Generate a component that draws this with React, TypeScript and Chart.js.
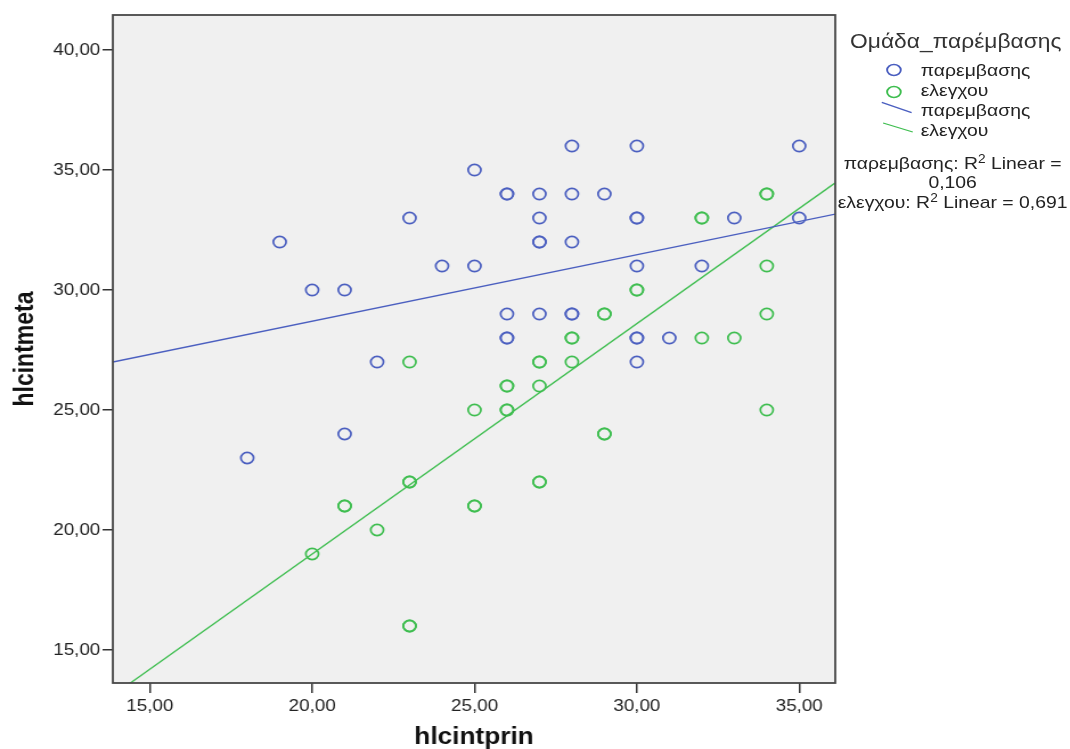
import React, { useEffect, useRef } from "react";
import { Chart, registerables } from "chart.js";

Chart.register(...registerables);

// Ομάδα παρέμβασης (intervention) points: hlcintprin (x), hlcintmeta (y)
const interventionX = [19, 20, 21, 18, 21, 22, 23, 24, 25, 25, 26, 26, 26, 26, 26, 27, 27, 27, 27, 27, 28, 28, 28, 28, 28, 29, 30, 30, 30, 30, 30, 30, 30, 31, 32, 33, 35, 35];
const interventionY = [32, 30, 30, 23, 24, 27, 33, 31, 35, 31, 34, 34, 29, 28, 28, 34, 33, 32, 32, 29, 36, 34, 32, 29, 29, 34, 36, 33, 33, 31, 28, 28, 27, 28, 31, 33, 36, 33];

// Ομάδα ελέγχου (control) points
const controlX = [20, 21, 21, 22, 23, 23, 23, 23, 23, 25, 25, 25, 26, 26, 26, 26, 27, 27, 27, 27, 27, 28, 28, 28, 29, 29, 29, 29, 30, 30, 32, 32, 32, 33, 34, 34, 34, 34, 34];
const controlY = [19, 21, 21, 20, 27, 22, 22, 16, 16, 25, 21, 21, 26, 26, 25, 25, 27, 27, 26, 22, 22, 28, 28, 27, 29, 29, 24, 24, 30, 30, 33, 33, 28, 28, 34, 34, 31, 29, 25];

// Linear fit coefficients: [slope, intercept]
const interventionFit = [0.277, 23.16];
const controlFit = [0.96, -0.2];

const xTicks = [15, 20, 25, 30, 35];
const yTicks = [15, 20, 25, 30, 35, 40];
const xRange = [13.86, 36.11];
const yRange = [13.625, 41.46];

const BLUE = "#4b5fc0";
const GREEN = "#3fbe50";

// The reference is horizontally stretched; draw in a narrower space and stretch.
const W_IN = 939;
const H = 749;
const SX = 1070 / W_IN;

const fmt = (v: number) => v.toFixed(2).replace(".", ",");

const bgPlugin = {
  id: "plotBg",
  beforeDraw(chart: any) {
    const { ctx, chartArea } = chart;
    ctx.save();
    ctx.fillStyle = "#f0f0f0";
    ctx.fillRect(chartArea.left, chartArea.top, chartArea.right - chartArea.left, chartArea.bottom - chartArea.top);
    ctx.restore();
  },
  afterDraw(chart: any) {
    const { ctx, chartArea } = chart;
    ctx.save();
    ctx.strokeStyle = "#484848";
    ctx.lineWidth = 1.8;
    ctx.strokeRect(chartArea.left, chartArea.top, chartArea.right - chartArea.left, chartArea.bottom - chartArea.top);
    ctx.restore();
  },
};

export default function App() {
  const ref = useRef<HTMLCanvasElement>(null);

  useEffect(() => {
    if (!ref.current) return;
    const pts = (xs: number[], ys: number[]) => xs.map((x, i) => ({ x, y: ys[i] }));
    const fitLine = (f: number[]) => xRange.map((x) => ({ x, y: f[0] * x + f[1] }));
    const tickFont = { family: "'Liberation Sans', Arial, sans-serif", size: 16.5 };
    const titleFont = { family: "'Liberation Sans', Arial, sans-serif", size: 23, weight: "bold", lineHeight: 1 };
    const chart = new Chart(ref.current, {
      type: "scatter",
      data: {
        datasets: [
          {
            label: "παρεμβασης",
            data: pts(interventionX, interventionY),
            borderColor: BLUE,
            backgroundColor: "rgba(0,0,0,0)",
            pointRadius: 5.6,
            borderWidth: 1.7,
          },
          {
            label: "ελεγχου",
            data: pts(controlX, controlY),
            borderColor: GREEN,
            backgroundColor: "rgba(0,0,0,0)",
            pointRadius: 5.6,
            borderWidth: 1.7,
          },
          {
            type: "line",
            label: "παρεμβασης fit",
            data: fitLine(interventionFit),
            borderColor: BLUE,
            borderWidth: 1.3,
            pointRadius: 0,
            showLine: true,
            clip: 0,
          } as any,
          {
            type: "line",
            label: "ελεγχου fit",
            data: fitLine(controlFit),
            borderColor: GREEN,
            borderWidth: 1.3,
            pointRadius: 0,
            showLine: true,
            clip: 0,
          } as any,
        ],
      },
      options: {
        animation: false,
        responsive: false,
        maintainAspectRatio: false,
        layout: { padding: { top: 15, right: 206, left: 0, bottom: 0 } },
        plugins: { legend: { display: false }, tooltip: { enabled: false } },
        scales: {
          x: {
            type: "linear",
            min: xRange[0],
            max: xRange[1],
            afterBuildTicks: (s: any) => {
              s.ticks = xTicks.map((v) => ({ value: v }));
            },
            afterFit: (s: any) => {
              s.height = 66;
            },
            grid: { display: true, drawOnChartArea: false, drawTicks: true, tickLength: 10, color: "#333", lineWidth: 1.5 },
            border: { display: false },
            ticks: {
              callback: (v: any) => fmt(Number(v)),
              color: "#222",
              font: tickFont,
              padding: 4,
              maxRotation: 0,
            },
            title: {
              display: true,
              text: "hlcintprin",
              color: "#111",
              font: titleFont,
              padding: { top: 0, bottom: 0 },
            },
          },
          y: {
            type: "linear",
            min: yRange[0],
            max: yRange[1],
            afterBuildTicks: (s: any) => {
              s.ticks = yTicks.map((v) => ({ value: v }));
            },
            afterFit: (s: any) => {
              s.width = 99;
            },
            grid: { display: true, drawOnChartArea: false, drawTicks: true, tickLength: 9, color: "#333", lineWidth: 1.5 },
            border: { display: false },
            ticks: {
              callback: (v: any) => fmt(Number(v)),
              color: "#222",
              font: tickFont,
              padding: 2,
            },
            title: {
              display: true,
              text: "hlcintmeta",
              color: "#111",
              font: titleFont,
              padding: { top: 11, bottom: 0 },
            },
          },
        },
      },
      plugins: [bgPlugin],
    } as any);
    return () => chart.destroy();
  }, []);

  const txt: React.CSSProperties = {
    position: "absolute",
    fontFamily: "'Liberation Sans', Arial, sans-serif",
    color: "#222",
    whiteSpace: "nowrap",
    lineHeight: 1,
    fontSize: 17,
  };
  const center: React.CSSProperties = { left: 686, width: 300, textAlign: "center" };
  const sup: React.CSSProperties = { fontSize: 12, lineHeight: 0, verticalAlign: "0.5em" };

  return (
    <div style={{ position: "absolute", left: 0, top: 0, width: 1070, height: H, overflow: "hidden", background: "#fff" }}>
      <div style={{ position: "absolute", left: 0, top: 0, width: W_IN, height: H, transform: `scaleX(${SX})`, transformOrigin: "0 0" }}>
        <canvas ref={ref} width={W_IN} height={H} style={{ display: "block", width: W_IN, height: H }} />
        <div style={{ ...txt, left: 746, top: 31, fontSize: 20, color: "#333" }}>Ομάδα_παρέμβασης</div>
        <svg style={{ position: "absolute", left: 760, top: 55 }} width={60} height={90}>
          <ellipse cx={24.5} cy={15} rx={6} ry={5.5} fill="none" stroke={BLUE} strokeWidth={1.7} />
          <ellipse cx={24.5} cy={37} rx={6} ry={5.5} fill="none" stroke={GREEN} strokeWidth={1.7} />
          <line x1={13.8} y1={47.3} x2={40} y2={57.7} stroke={BLUE} strokeWidth={1.3} />
          <line x1={15} y1={68} x2={41} y2={77} stroke={GREEN} strokeWidth={1.3} />
        </svg>
        <div style={{ ...txt, left: 808, top: 62 }}>παρεμβασης</div>
        <div style={{ ...txt, left: 808, top: 82 }}>ελεγχου</div>
        <div style={{ ...txt, left: 808, top: 102 }}>παρεμβασης</div>
        <div style={{ ...txt, left: 808, top: 122 }}>ελεγχου</div>
        <div style={{ ...txt, ...center, top: 155 }}>
          παρεμβασης: R<sup style={sup}>2</sup> Linear =
        </div>
        <div style={{ ...txt, ...center, top: 174 }}>0,106</div>
        <div style={{ ...txt, ...center, top: 194 }}>
          ελεγχου: R<sup style={sup}>2</sup> Linear = 0,691
        </div>
      </div>
    </div>
  );
}
